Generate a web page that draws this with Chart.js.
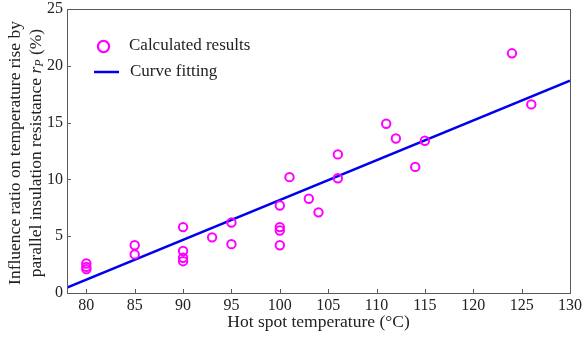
<!DOCTYPE html>
<html>
<head>
<meta charset="utf-8">
<script src="https://cdn.jsdelivr.net/npm/chart.js@4/dist/chart.umd.min.js"></script>
<style>
html,body{margin:0;padding:0;background:#fff;}
#wrap{width:584px;height:337px;position:relative;}
</style>
</head>
<body>
<div id="wrap"><canvas id="c" width="584" height="337"></canvas></div>
<script>
// Data
const tempX = [80,80,80,85,85,90,90,90,90,93,95,95,100,100,100,100,101,103,104,106,106,111,112,114,115,124,126];
const ratioY = [2.6,2.3,2.1,4.2,3.4,5.8,3.7,3.1,2.8,4.9,6.2,4.3,7.7,5.8,5.5,4.2,10.2,8.3,7.1,12.2,10.1,14.9,13.6,11.1,13.4,21.1,16.6];
const fitX = [78,130];
const fitY = [0.47,18.7];
const xTicks = [80,85,90,95,100,105,110,115,120,125,130];
const yTicks = [0,5,10,15,20,25];
const seriesNames = ['Calculated results','Curve fitting'];
const xTitle = 'Hot spot temperature (°C)';
const yTitle1 = 'Influence ratio on temperature rise by';
const yTitle2a = 'parallel insulation resistance ';

const FONT = '"Liberation Serif", "Times New Roman", serif';
const MAG = '#ff00ff', BLUE = '#0000ee', AX = '#5a5a5a';

const scatterPts = tempX.map((x,i)=>({x:x,y:ratioY[i]}));
const fitPts = fitX.map((x,i)=>({x:x,y:fitY[i]}));

const decor = {
  id:'decor',
  afterDraw(chart){
    const ctx = chart.ctx, a = chart.chartArea;
    const xs = chart.scales.x, ys = chart.scales.y;
    ctx.save();
    // box
    ctx.strokeStyle = AX; ctx.lineWidth = 1;
    ctx.strokeRect(Math.round(a.left)+0.5, Math.round(a.top)+0.5, Math.round(a.right-a.left), Math.round(a.bottom-a.top));
    // inner ticks
    ctx.beginPath();
    xTicks.forEach(v=>{const p=Math.round(xs.getPixelForValue(v))+0.5; ctx.moveTo(p,a.bottom); ctx.lineTo(p,a.bottom-4);});
    yTicks.forEach(v=>{const p=Math.round(ys.getPixelForValue(v))+0.5; ctx.moveTo(a.left,p); ctx.lineTo(a.left+4,p);});
    ctx.stroke();
    // x title
    ctx.fillStyle = '#222';
    ctx.font = '17.5px ' + FONT;
    ctx.textAlign = 'center'; ctx.textBaseline = 'middle';
    ctx.fillText(xTitle, (a.left+a.right)/2, 322);
    // y title
    ctx.save();
    ctx.translate(15, 153);
    ctx.rotate(-Math.PI/2);
    ctx.fillText(yTitle1, 0, 0);
    ctx.translate(0, 21);
    const w1 = ctx.measureText(yTitle2a).width;
    ctx.font = 'italic 17.5px ' + FONT;
    const wr = ctx.measureText('r').width;
    ctx.font = 'italic 12px ' + FONT;
    const wp = ctx.measureText('P').width;
    ctx.font = '17.5px ' + FONT;
    const wpc = ctx.measureText(' (%)').width;
    const total = w1+wr+wp+wpc;
    let cx = -total/2;
    ctx.textAlign = 'left';
    ctx.fillText(yTitle2a, cx, 0); cx += w1;
    ctx.font = 'italic 17.5px ' + FONT; ctx.fillText('r', cx, 0); cx += wr;
    ctx.font = 'italic 12px ' + FONT; ctx.fillText('P', cx, 4); cx += wp;
    ctx.font = '17.5px ' + FONT; ctx.fillText(' (%)', cx, 0);
    ctx.restore();
    // legend
    const ds0 = chart.data.datasets[0], ds1 = chart.data.datasets[1];
    ctx.strokeStyle = ds0.borderColor; ctx.lineWidth = 2.2;
    ctx.beginPath(); ctx.arc(103.5, 46.5, 5.6, 0, Math.PI*2); ctx.stroke();
    ctx.strokeStyle = ds1.borderColor; ctx.lineWidth = ds1.borderWidth;
    ctx.beginPath(); ctx.moveTo(94,72); ctx.lineTo(119,72); ctx.stroke();
    ctx.fillStyle = '#222'; ctx.font = '17px ' + FONT;
    ctx.textAlign='left'; ctx.textBaseline='middle';
    ctx.fillText(ds0.label, 129, 46);
    ctx.fillText(ds1.label, 130, 72);
    ctx.restore();
  }
};

new Chart(document.getElementById('c'), {
  type:'scatter',
  data:{datasets:[
    {label:seriesNames[0], data:scatterPts, showLine:false, pointStyle:'circle', pointRadius:4.2, pointHoverRadius:4.2,
     borderColor:MAG, backgroundColor:'rgba(0,0,0,0)', borderWidth:2, order:1},
    {label:seriesNames[1], data:fitPts, showLine:true, pointRadius:0, borderColor:BLUE, borderWidth:2.5, fill:false, order:2}
  ]},
  options:{
    responsive:false, animation:false,
    layout:{padding:{top:9,right:14,left:0,bottom:0}},
    plugins:{legend:{display:false}, tooltip:{enabled:false}},
    scales:{
      x:{type:'linear', min:78, max:130,
        afterBuildTicks(s){ s.ticks = xTicks.map(v=>({value:v})); },
        afterFit(s){ s.height = 44; s.paddingLeft = 0; s.paddingRight = 0; },
        grid:{display:false, drawTicks:false}, border:{display:false},
        ticks:{padding:3, color:'#222', font:{family:FONT,size:16}, maxRotation:0, autoSkip:false}},
      y:{type:'linear', min:0, max:25,
        afterBuildTicks(s){ s.ticks = yTicks.map(v=>({value:v})); },
        afterFit(s){ s.width = 67; s.paddingTop = 0; s.paddingBottom = 0; },
        grid:{display:false, drawTicks:false}, border:{display:false},
        ticks:{padding:4, color:'#222', font:{family:FONT,size:16,lineHeight:0.5}}}
    }
  },
  plugins:[decor]
});
</script>
</body>
</html>
